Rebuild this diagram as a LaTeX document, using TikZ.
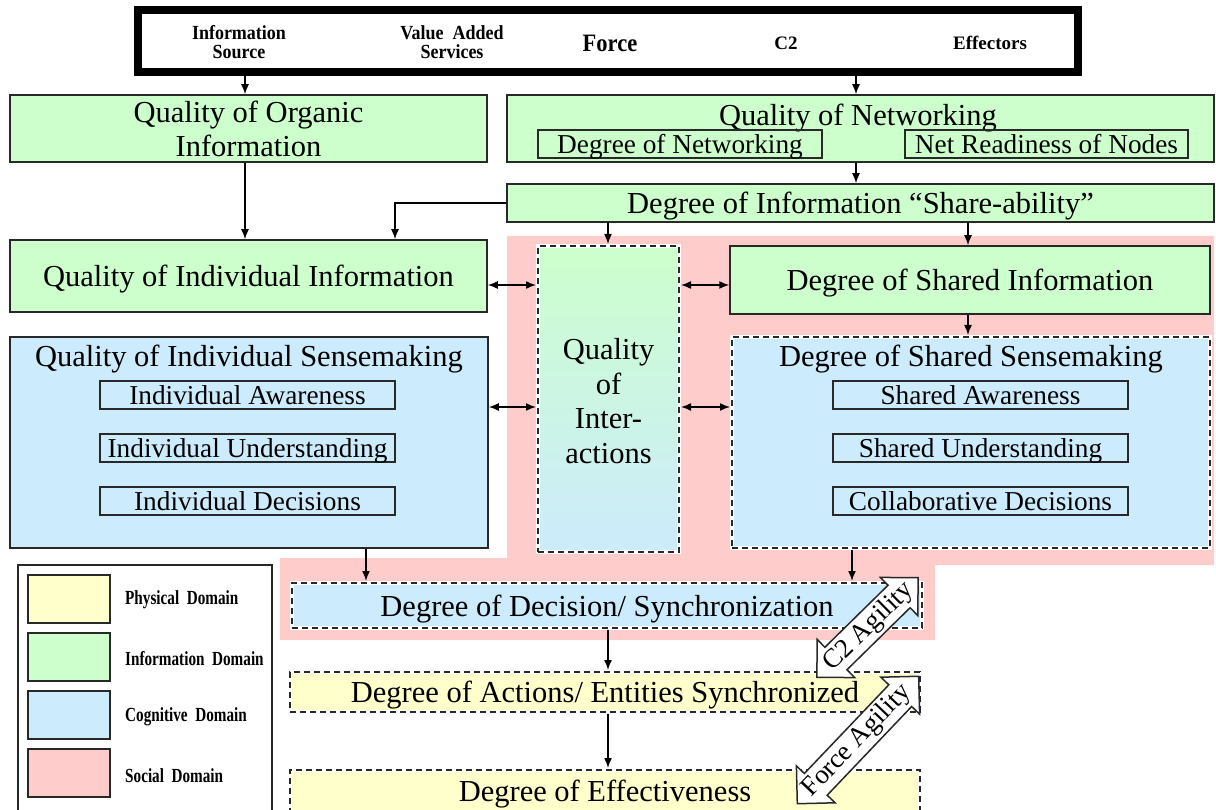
\documentclass[tikz,border=0pt]{standalone}
\usepackage{fontspec}
\setmainfont{Liberation Serif}
\newfontfamily\condtop{Liberation Serif}[FakeStretch=0.9]
\newfontfamily\condleg{Liberation Serif}[FakeStretch=0.76]
\usetikzlibrary{arrows.meta,shapes.arrows}
\definecolor{gr}{RGB}{204,255,204}
\definecolor{bl}{RGB}{204,235,252}
\definecolor{pk}{RGB}{255,204,204}
\definecolor{yl}{RGB}{255,255,204}
\definecolor{edge}{RGB}{40,40,40}
\newcommand{\fsz}[2]{\fontsize{#1}{#2}\selectfont}
\tikzset{
 box/.style={draw=edge, line width=1.5pt, inner sep=0pt, align=center, text depth=0pt, font=\fsz{30.5}{34}},
 sbox/.style={draw=edge, line width=1.5pt, inner sep=0pt, text depth=0pt, font=\fsz{27.3}{28}},
 ttl/.style={inner sep=0pt, text depth=0pt, font=\fsz{30.5}{34.5}},
 dbox/.style={draw=white, line width=4pt, inner sep=0pt, align=center, text depth=0pt, font=\fsz{30.5}{34},
   postaction={draw=edge, line width=1.8pt, dash pattern=on 6pt off 4pt}},
 arr/.style={-{Latex[length=10pt,width=8pt]}, line width=1.5pt},
 darr/.style={{Latex[length=10pt,width=8pt]}-{Latex[length=10pt,width=8pt]}, line width=1.5pt},
 toplab/.style={font=\condtop\fsz{20}{19}\bfseries, align=center, inner sep=0pt},
 leg/.style={font=\condleg\fsz{20}{20}\bfseries, anchor=west, inner sep=0pt},
 sw/.style={draw=edge, line width=1.5pt, minimum width=82pt, minimum height=48pt, inner sep=0pt},
 agil/.style={double arrow, draw=edge, fill=white, line width=1.5pt,
   inner sep=15pt, double arrow head extend=11pt, anchor=center},
 agiltext/.style={inner sep=0pt, font=\fsz{27}{27}, anchor=center}
}
\begin{document}
\begin{tikzpicture}[x=1pt,y=-1pt]
\useasboundingbox (0,0) rectangle (1216,810);
\clip (0,0) rectangle (1216,810);
% social domain background
\fill[pk] (507,236) -- (1214,236) -- (1214,565) -- (935,565) -- (935,640) -- (280,640) -- (280,558) -- (507,558) -- cycle;

% top bar
\node[draw=black, line width=8pt, minimum width=940pt, minimum height=62pt, inner sep=0pt] (topbox) at (608,41) {};
\node[toplab] (isrc) at (239,42) {Information\\Source};
\node[toplab] (vas) at (452,42) {Value\ \ Added\\Services};
\node[toplab, font=\condtop\fsz{25}{25}\bfseries] (force) at (610,43) {Force};
\node[toplab, font=\fsz{19}{19}\bfseries] (c2) at (786,43) {C2};
\node[toplab, font=\fsz{19}{19}\bfseries] (eff) at (990,43) {Effectors};

% information domain
\node[box, fill=gr, minimum width=477pt, minimum height=67pt] (qoi) at (248.5,128.5) {Quality of Organic\\Information};
\node[box, fill=gr, minimum width=707pt, minimum height=67pt] (qon) at (860.5,128.5) {};
\node[ttl] (qont) at (858,114.5) {Quality of Networking};
\node[sbox, minimum width=284pt, minimum height=28pt] (don) at (680,144) {Degree of Networking};
\node[sbox, minimum width=283pt, minimum height=28pt] (nrn) at (1046.5,144) {Net Readiness of Nodes};
\node[box, fill=gr, minimum width=707pt, minimum height=38pt] (share) at (860.5,203) {Degree of Information “Share-ability”};
\node[box, fill=gr, minimum width=477pt, minimum height=72pt] (qii) at (248.5,276) {Quality of Individual Information};
\node[box, fill=gr, minimum width=480pt, minimum height=68pt] (dsi) at (970,280) {Degree of Shared Information};

% quality of interactions
\node[dbox, top color=gr, bottom color=bl, middle color=gr!50!bl, minimum width=141pt, minimum height=306pt] (qint) at (608.5,399) {};
\node[ttl, align=center] (qintt) at (608.5,401) {Quality\\of\\Inter-\\actions};

% cognitive domain
\node[box, fill=bl, minimum width=478pt, minimum height=211pt] (qis) at (249,442.5) {};
\node[ttl] (qist) at (249,356) {Quality of Individual Sensemaking};
\node[sbox, minimum width=295pt, minimum height=28pt] (ia) at (247.5,395) {Individual Awareness};
\node[sbox, minimum width=295pt, minimum height=28pt] (iu) at (247.5,448) {Individual Understanding};
\node[sbox, minimum width=295pt, minimum height=28pt] (id) at (247.5,501) {Individual Decisions};

\node[dbox, fill=bl, minimum width=478pt, minimum height=211pt] (dss) at (971,442.5) {};
\node[ttl] (dsst) at (971,356) {Degree of Shared Sensemaking};
\node[sbox, minimum width=295pt, minimum height=28pt] (sa) at (980.5,395) {Shared Awareness};
\node[sbox, minimum width=295pt, minimum height=28pt] (su) at (980.5,448) {Shared Understanding};
\node[sbox, minimum width=295pt, minimum height=28pt] (cd) at (980.5,501) {Collaborative Decisions};

\node[dbox, fill=bl, minimum width=630pt, minimum height=45pt] (dds) at (607,605.5) {Degree of Decision/ Synchronization};
\node[dbox, fill=yl, minimum width=630pt, minimum height=40pt] (das) at (605,692) {Degree of Actions/ Entities Synchronized};
\node[dbox, fill=yl, minimum width=630pt, minimum height=42pt] (def) at (605,791) {Degree of Effectiveness};

% agility arrows
\node[agil, minimum height=142pt, rotate=44.5] (c2a) at (867.5,627.5) {};
\node[agiltext, rotate=44.5] (c2at) at (869,627) {C2 Agility};
\node[agil, minimum height=176pt, rotate=46.4] (fa) at (858,740) {};
\node[agiltext, rotate=46.4] (fat) at (857,741) {Force Agility};

% legend
\node[draw=edge, line width=1.5pt, minimum width=254pt, minimum height=250pt, inner sep=0pt] (legend) at (145,690) {};
\node[sw, fill=yl] (sw1) at (69,599) {};
\node[sw, fill=gr] (sw2) at (69,657) {};
\node[sw, fill=bl] (sw3) at (69,715) {};
\node[sw, fill=pk] (sw4) at (69,773) {};
\node[leg] (l1) at (125,600) {Physical\ \ Domain};
\node[leg] (l2) at (125,659) {Information\ \ Domain};
\node[leg] (l3) at (125,717) {Cognitive\ \ Domain};
\node[leg] (l4) at (125,776) {Social\ \ Domain};

% connectors
\coordinate (x245) at (245,0);
\coordinate (x856) at (856,0);
\coordinate (x395) at (395,0);
\coordinate (x608) at (608,0);
\coordinate (x968) at (968,0);
\coordinate (x366) at (366,0);
\coordinate (x852) at (852,0);
\coordinate (y285) at (0,285);
\coordinate (y407) at (0,407);

\draw[arr] (topbox.south -| x245) -- (qoi.north -| x245);
\draw[arr] (topbox.south -| x856) -- (qon.north -| x856);
\draw[arr] (qon.south -| x856) -- (share.north -| x856);
\draw[arr] (qoi.south -| x245) -- (qii.north -| x245);
\draw[arr] (share.west) -| (qii.north -| x395);
\draw[arr] (share.south -| x608) -- (qint.north -| x608);
\draw[arr] (share.south -| x968) -- (dsi.north -| x968);
\draw[darr] (qii.east |- y285) -- (qint.west |- y285);
\draw[darr] (qint.east |- y285) -- (dsi.west |- y285);
\draw[darr] (qis.east |- y407) -- (qint.west |- y407);
\draw[darr] (qint.east |- y407) -- (dss.west |- y407);
\draw[arr] (dsi.south -| x968) -- (dss.north -| x968);
\draw[arr] (qis.south -| x366) -- (dds.north -| x366);
\draw[arr] (dss.south -| x852) -- (dds.north -| x852);
\draw[arr] (dds.south -| x608) -- (das.north -| x608);
\draw[arr] (das.south -| x608) -- (def.north -| x608);
\end{tikzpicture}
\end{document}
